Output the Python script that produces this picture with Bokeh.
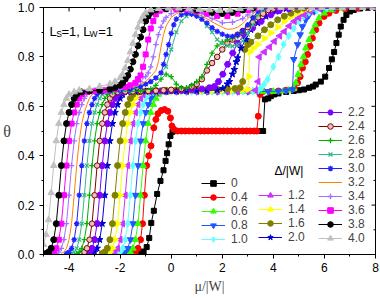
import math
from bokeh.plotting import figure
from bokeh.models import Range1d, FixedTicker, Label, Legend, LegendItem, Title
from bokeh.embed import file_html
from bokeh.resources import INLINE

# ---------------- data: (mu/|W|, theta) ----------------
D00 = [(-1.5, 0.0), (-1.3, 0.004), (-1.2, 0.007), (-1.08, 0.012), (-0.96, 0.03), (-0.86, 0.067),
       (-0.78, 0.128), (-0.68, 0.177), (-0.55, 0.245), (-0.42, 0.298), (-0.30, 0.341), (-0.22, 0.379),
       (-0.16, 0.41), (-0.10, 0.446), (-0.03, 0.48), (0.05, 0.497), (0.2, 0.5), (0.5, 0.5), (0.8, 0.5),
       (1.1, 0.5), (1.4, 0.5), (1.7, 0.5), (2.0, 0.5), (2.3, 0.5), (2.6, 0.5), (2.9, 0.5), (3.2, 0.5),
       (3.45, 0.5), (3.6, 0.5), (3.67, 0.628), (3.8, 0.632), (3.9, 0.641), (4.04, 0.648), (4.2, 0.652),
       (4.5, 0.658), (4.8, 0.662), (5.0, 0.665), (5.2, 0.668), (5.4, 0.675), (5.55, 0.68), (5.66, 0.688),
       (5.86, 0.70), (6.03, 0.72), (6.18, 0.755), (6.29, 0.79), (6.38, 0.82), (6.47, 0.856), (6.56, 0.89),
       (6.64, 0.923), (6.75, 0.95), (6.86, 0.97), (7.0, 0.984), (7.15, 0.99), (7.4, 0.996), (7.7, 0.999),
       (8.0, 1.0)]
D04 = [(-1.6, 0.002), (-1.5, 0.004), (-1.4, 0.01), (-1.3, 0.025), (-1.2, 0.06), (-1.12, 0.125),
       (-1.05, 0.24), (-0.96, 0.36), (-0.88, 0.40), (-0.79, 0.44), (-0.68, 0.513), (-0.6, 0.547),
       (-0.52, 0.57), (-0.39, 0.583), (-0.26, 0.587), (-0.13, 0.58), (-0.03, 0.553), (0.03, 0.52),
       (0.1, 0.507), (0.25, 0.5), (0.4, 0.5), (0.55, 0.5), (0.7, 0.5), (0.85, 0.5), (1.0, 0.5), (1.15, 0.5),
       (1.3, 0.5), (1.45, 0.5), (1.6, 0.5), (1.75, 0.5), (1.9, 0.5), (2.05, 0.5), (2.2, 0.5), (2.35, 0.5),
       (2.5, 0.5), (2.65, 0.5), (2.8, 0.5), (2.95, 0.5), (3.1, 0.5), (3.25, 0.5), (3.35, 0.5), (3.41, 0.56),
       (3.48, 0.648), (3.6, 0.66), (3.9, 0.66), (4.2, 0.662), (4.5, 0.665), (4.82, 0.672), (4.95, 0.695),
       (5.05, 0.72), (5.14, 0.755), (5.25, 0.78), (5.34, 0.81), (5.44, 0.843), (5.53, 0.876), (5.66, 0.91),
       (5.79, 0.937), (5.99, 0.964), (6.18, 0.977), (6.45, 0.988), (6.8, 0.995), (7.3, 0.998), (8.0, 1.0)]
D06 = [(-1.7, 0.004), (-1.6, 0.01), (-1.5, 0.025), (-1.4, 0.06), (-1.3, 0.125), (-1.2, 0.24), (-1.1, 0.36),
       (-1.0, 0.46), (-0.9, 0.53), (-0.8, 0.575), (-0.7, 0.607), (-0.6, 0.632), (-0.5, 0.648), (-0.3, 0.658),
       (0.0, 0.66), (0.4, 0.66), (0.8, 0.66), (1.2, 0.66), (1.6, 0.66), (2.0, 0.66), (2.4, 0.66), (2.8, 0.66),
       (3.2, 0.66), (3.6, 0.66), (4.0, 0.66), (4.4, 0.662), (4.6, 0.665), (4.8, 0.672), (4.88, 0.695),
       (4.97, 0.729), (5.08, 0.769), (5.18, 0.80), (5.27, 0.836), (5.4, 0.87), (5.53, 0.903), (5.64, 0.93),
       (5.79, 0.957), (5.99, 0.977), (6.3, 0.99), (6.7, 0.997), (8.0, 1.0)]
D08 = [(-1.9, 0.004), (-1.8, 0.01), (-1.7, 0.025), (-1.6, 0.06), (-1.5, 0.125), (-1.4, 0.24), (-1.3, 0.36),
       (-1.2, 0.46), (-1.1, 0.53), (-1.0, 0.575), (-0.9, 0.607), (-0.8, 0.632), (-0.7, 0.648), (-0.5, 0.658),
       (-0.2, 0.66), (0.2, 0.66), (0.6, 0.66), (1.0, 0.66), (1.4, 0.66), (1.8, 0.66), (2.2, 0.66), (2.6, 0.66),
       (3.0, 0.66), (3.4, 0.66), (3.8, 0.66), (4.2, 0.661), (4.5, 0.663), (4.75, 0.668), (4.8, 0.79),
       (4.95, 0.85), (5.05, 0.89), (5.14, 0.923), (5.27, 0.95), (5.4, 0.97), (5.6, 0.984), (5.9, 0.995),
       (6.4, 1.0), (8.0, 1.0)]
D10 = [(-2.1, 0.004), (-2.0, 0.01), (-1.9, 0.025), (-1.8, 0.06), (-1.7, 0.125), (-1.6, 0.24), (-1.5, 0.36),
       (-1.4, 0.46), (-1.3, 0.53), (-1.2, 0.575), (-1.1, 0.607), (-1.0, 0.632), (-0.9, 0.648), (-0.7, 0.658),
       (-0.4, 0.66), (0.0, 0.66), (0.4, 0.66), (0.8, 0.66), (1.2, 0.66), (1.6, 0.66), (2.0, 0.66), (2.4, 0.66),
       (2.8, 0.66), (3.2, 0.662), (3.4, 0.665), (3.52, 0.675), (3.65, 0.69), (3.78, 0.71), (4.0, 0.76),
       (4.2, 0.80), (4.4, 0.85), (4.6, 0.885), (4.8, 0.915), (5.0, 0.945), (5.2, 0.965), (5.4, 0.98),
       (5.7, 0.99), (6.1, 0.997), (8.0, 1.0)]
D12 = [(-2.3, 0.004), (-2.2, 0.01), (-2.1, 0.025), (-2.0, 0.06), (-1.9, 0.125), (-1.8, 0.24), (-1.7, 0.36),
       (-1.6, 0.46), (-1.5, 0.53), (-1.4, 0.575), (-1.3, 0.607), (-1.2, 0.632), (-1.1, 0.648), (-0.9, 0.658),
       (-0.6, 0.66), (-0.2, 0.66), (0.2, 0.66), (0.6, 0.66), (1.0, 0.66), (1.4, 0.66), (1.8, 0.66), (2.2, 0.66),
       (2.6, 0.66), (3.0, 0.662), (3.3, 0.665), (3.4, 0.70), (3.45, 0.80), (3.65, 0.82), (3.85, 0.84),
       (4.04, 0.863), (4.25, 0.885), (4.43, 0.903), (4.62, 0.925), (4.82, 0.944), (5.0, 0.958), (5.21, 0.97),
       (5.45, 0.985), (5.8, 0.995), (8.0, 1.0)]
D14 = [(-2.5, 0.004), (-2.4, 0.01), (-2.3, 0.025), (-2.2, 0.06), (-2.1, 0.125), (-2.0, 0.24), (-1.9, 0.36),
       (-1.8, 0.46), (-1.7, 0.53), (-1.6, 0.575), (-1.5, 0.607), (-1.4, 0.632), (-1.3, 0.648), (-1.1, 0.658),
       (-0.8, 0.66), (-0.4, 0.66), (0.0, 0.66), (0.4, 0.66), (0.8, 0.662), (1.2, 0.662), (1.6, 0.663),
       (2.0, 0.664), (2.4, 0.665), (2.8, 0.666), (3.0, 0.668), (3.04, 0.72), (3.08, 0.82), (3.2, 0.835),
       (3.39, 0.85), (3.65, 0.875), (3.9, 0.897), (4.17, 0.92), (4.43, 0.944), (4.69, 0.962), (4.95, 0.977),
       (5.2, 0.99), (5.5, 0.997), (8.0, 1.0)]
D16 = [(-2.7, 0.004), (-2.6, 0.01), (-2.5, 0.025), (-2.4, 0.06), (-2.3, 0.125), (-2.2, 0.24), (-2.1, 0.36),
       (-2.0, 0.46), (-1.9, 0.53), (-1.8, 0.575), (-1.7, 0.607), (-1.6, 0.632), (-1.5, 0.648), (-1.3, 0.658),
       (-1.0, 0.662), (-0.6, 0.664), (-0.2, 0.665), (0.2, 0.666), (0.6, 0.667), (1.0, 0.668), (1.4, 0.668),
       (1.8, 0.669), (2.2, 0.67), (2.5, 0.672), (2.7, 0.675), (2.8, 0.70), (2.88, 0.83), (3.0, 0.85),
       (3.12, 0.86), (3.4, 0.885), (3.65, 0.91), (3.9, 0.93), (4.17, 0.95), (4.43, 0.965), (4.69, 0.977),
       (4.95, 0.99), (5.2, 0.997), (8.0, 1.0)]
D20 = [(-3.1, 0.004), (-3.0, 0.01), (-2.9, 0.025), (-2.8, 0.06), (-2.7, 0.125), (-2.6, 0.24), (-2.5, 0.36),
       (-2.4, 0.46), (-2.3, 0.53), (-2.2, 0.575), (-2.1, 0.607), (-2.0, 0.632), (-1.9, 0.648), (-1.7, 0.658),
       (-1.4, 0.66), (-1.0, 0.66), (-0.6, 0.66), (-0.2, 0.66), (0.2, 0.661), (0.6, 0.662), (1.0, 0.663),
       (1.4, 0.664), (1.8, 0.666), (2.02, 0.672), (2.2, 0.69), (2.28, 0.70), (2.4, 0.73), (2.47, 0.749),
       (2.55, 0.78), (2.6, 0.796), (2.73, 0.836), (2.93, 0.87), (3.12, 0.91), (3.39, 0.937), (3.71, 0.964),
       (4.1, 0.984), (4.5, 0.995), (8.0, 1.0)]
D22 = [(-3.3, 0.004), (-3.2, 0.01), (-3.1, 0.025), (-3.0, 0.06), (-2.9, 0.125), (-2.8, 0.24), (-2.7, 0.36),
       (-2.6, 0.46), (-2.5, 0.53), (-2.4, 0.575), (-2.3, 0.607), (-2.2, 0.632), (-2.1, 0.648), (-1.9, 0.658),
       (-1.6, 0.66), (-1.2, 0.66), (-0.8, 0.661), (-0.4, 0.662), (0.0, 0.663), (0.4, 0.664), (0.8, 0.666),
       (1.2, 0.67), (1.5, 0.675), (1.69, 0.68), (1.85, 0.70), (2.02, 0.73), (2.21, 0.77), (2.41, 0.816),
       (2.6, 0.856), (2.86, 0.89), (3.19, 0.917), (3.52, 0.944), (3.9, 0.97), (4.23, 0.987), (4.6, 0.995),
       (8.0, 1.0)]
D24 = [(-3.5, 0.004), (-3.4, 0.01), (-3.3, 0.025), (-3.2, 0.06), (-3.1, 0.125), (-3.0, 0.24), (-2.9, 0.36),
       (-2.8, 0.46), (-2.7, 0.53), (-2.6, 0.575), (-2.5, 0.607), (-2.4, 0.632), (-2.3, 0.648), (-2.1, 0.658),
       (-1.8, 0.66), (-1.5, 0.66), (-1.2, 0.661), (-0.9, 0.662), (-0.6, 0.663), (-0.3, 0.665), (0.0, 0.667),
       (0.4, 0.67), (0.8, 0.68), (1.0, 0.69), (1.2, 0.71), (1.4, 0.745), (1.6, 0.775), (1.8, 0.80), (2.0, 0.83),
       (2.2, 0.855), (2.4, 0.87), (2.6, 0.89), (2.8, 0.905), (3.0, 0.92), (3.2, 0.94), (3.4, 0.96),
       (3.6, 0.975), (3.8, 0.99), (4.0, 0.995), (8.0, 1.0)]
D26 = [(-3.7, 0.004), (-3.6, 0.01), (-3.5, 0.025), (-3.4, 0.06), (-3.3, 0.125), (-3.2, 0.24), (-3.1, 0.36),
       (-3.0, 0.46), (-2.9, 0.53), (-2.8, 0.575), (-2.7, 0.607), (-2.6, 0.632), (-2.5, 0.648), (-2.3, 0.658),
       (-2.0, 0.66), (-1.6, 0.66), (-1.2, 0.662), (-0.8, 0.67), (-0.6, 0.685), (-0.4, 0.71), (-0.2, 0.73),
       (0.0, 0.72), (0.2, 0.69), (0.4, 0.675), (0.6, 0.675), (0.8, 0.685), (1.0, 0.70), (1.2, 0.72),
       (1.4, 0.77), (1.6, 0.815), (1.8, 0.845), (2.0, 0.86), (2.2, 0.87), (2.4, 0.875), (2.6, 0.885),
       (2.8, 0.90), (3.0, 0.93), (3.2, 0.96), (3.4, 0.985), (3.6, 0.995), (8.0, 1.0)]
D28 = [(-3.9, 0.004), (-3.8, 0.01), (-3.7, 0.025), (-3.6, 0.06), (-3.5, 0.125), (-3.4, 0.24), (-3.3, 0.36),
       (-3.2, 0.46), (-3.1, 0.53), (-3.0, 0.575), (-2.9, 0.607), (-2.8, 0.632), (-2.7, 0.648), (-2.5, 0.658),
       (-2.2, 0.662), (-1.8, 0.667), (-1.4, 0.675), (-1.0, 0.69), (-0.8, 0.70), (-0.6, 0.715), (-0.4, 0.735),
       (-0.2, 0.76), (0.0, 0.83), (0.2, 0.90), (0.4, 0.945), (0.6, 0.965), (0.8, 0.975), (1.0, 0.97),
       (1.2, 0.955), (1.4, 0.925), (1.6, 0.90), (1.8, 0.87), (2.0, 0.855), (2.2, 0.845), (2.4, 0.843),
       (2.6, 0.85), (2.8, 0.865), (3.0, 0.89), (3.2, 0.93), (3.4, 0.97), (3.6, 0.99), (3.8, 0.998), (8.0, 1.0)]
D30 = [(-4.1, 0.004), (-4.0, 0.01), (-3.9, 0.025), (-3.8, 0.06), (-3.7, 0.125), (-3.6, 0.24), (-3.5, 0.36),
       (-3.4, 0.46), (-3.3, 0.53), (-3.2, 0.575), (-3.1, 0.607), (-3.0, 0.632), (-2.9, 0.648), (-2.7, 0.658),
       (-2.4, 0.662), (-2.0, 0.665), (-1.6, 0.67), (-1.2, 0.68), (-1.0, 0.69), (-0.8, 0.70), (-0.6, 0.715),
       (-0.4, 0.735), (-0.3, 0.77), (-0.2, 0.81), (-0.1, 0.85), (0.0, 0.895), (0.1, 0.93), (0.2, 0.953),
       (0.4, 0.97), (0.6, 0.976), (0.8, 0.973), (1.0, 0.965), (1.2, 0.952), (1.4, 0.937), (1.6, 0.918),
       (1.8, 0.903), (2.0, 0.892), (2.2, 0.884), (2.4, 0.883), (2.6, 0.89), (2.8, 0.905), (3.0, 0.93),
       (3.2, 0.958), (3.4, 0.985), (3.6, 0.997), (8.0, 1.0)]
D32 = [(-4.3, 0.004), (-4.2, 0.01), (-4.1, 0.025), (-4.0, 0.06), (-3.9, 0.125), (-3.8, 0.24), (-3.7, 0.36),
       (-3.6, 0.46), (-3.5, 0.53), (-3.4, 0.575), (-3.3, 0.607), (-3.2, 0.632), (-3.1, 0.648), (-2.9, 0.658),
       (-2.6, 0.662), (-2.2, 0.665), (-1.8, 0.67), (-1.4, 0.68), (-1.2, 0.69), (-1.0, 0.70), (-0.8, 0.72),
       (-0.6, 0.745), (-0.5, 0.78), (-0.4, 0.84), (-0.3, 0.89), (-0.2, 0.925), (0.0, 0.96), (0.2, 0.975),
       (0.4, 0.983), (0.6, 0.985), (0.8, 0.981), (1.2, 0.966), (1.6, 0.942), (2.0, 0.92), (2.2, 0.912),
       (2.4, 0.913), (2.6, 0.92), (2.8, 0.935), (3.0, 0.955), (3.2, 0.975), (3.4, 0.99), (3.6, 1.0), (8.0, 1.0)]
D34 = [(-4.5, 0.004), (-4.4, 0.01), (-4.3, 0.025), (-4.2, 0.06), (-4.1, 0.125), (-4.0, 0.24), (-3.9, 0.36),
       (-3.8, 0.46), (-3.7, 0.53), (-3.6, 0.575), (-3.5, 0.607), (-3.4, 0.632), (-3.3, 0.648), (-3.1, 0.658),
       (-2.8, 0.662), (-2.4, 0.665), (-2.0, 0.67), (-1.6, 0.68), (-1.4, 0.69), (-1.2, 0.70), (-1.0, 0.72),
       (-0.9, 0.735), (-0.8, 0.76), (-0.7, 0.80), (-0.6, 0.85), (-0.5, 0.89), (-0.4, 0.92), (-0.3, 0.945),
       (-0.2, 0.96), (0.0, 0.975), (0.4, 0.986), (0.8, 0.985), (1.2, 0.975), (1.6, 0.955), (2.0, 0.938),
       (2.4, 0.94), (2.8, 0.955), (3.0, 0.97), (3.2, 0.985), (3.4, 0.996), (8.0, 1.0)]
D36 = [(-4.7, 0.004), (-4.6, 0.01), (-4.5, 0.025), (-4.4, 0.06), (-4.3, 0.125), (-4.2, 0.24), (-4.1, 0.36),
       (-4.0, 0.46), (-3.9, 0.53), (-3.8, 0.575), (-3.7, 0.607), (-3.6, 0.632), (-3.5, 0.648), (-3.3, 0.658),
       (-3.0, 0.662), (-2.6, 0.665), (-2.2, 0.67), (-1.8, 0.678), (-1.6, 0.685), (-1.4, 0.695), (-1.3, 0.71),
       (-1.2, 0.725), (-1.1, 0.76), (-1.0, 0.81), (-0.9, 0.87), (-0.8, 0.915), (-0.7, 0.945), (-0.6, 0.972),
       (-0.45, 0.987), (-0.2, 0.993), (0.2, 0.994), (0.6, 0.992), (1.0, 0.985), (1.4, 0.975), (1.8, 0.966),
       (2.2, 0.965), (2.6, 0.975), (3.0, 0.99), (3.3, 0.998), (8.0, 1.0)]
D38 = [(-4.9, 0.004), (-4.8, 0.01), (-4.7, 0.025), (-4.6, 0.06), (-4.5, 0.125), (-4.4, 0.24), (-4.3, 0.36),
       (-4.2, 0.46), (-4.1, 0.53), (-4.0, 0.575), (-3.9, 0.607), (-3.8, 0.632), (-3.7, 0.648), (-3.5, 0.658),
       (-3.2, 0.662), (-2.8, 0.665), (-2.4, 0.67), (-2.2, 0.675), (-2.0, 0.685), (-1.9, 0.695), (-1.8, 0.71),
       (-1.7, 0.725), (-1.6, 0.75), (-1.5, 0.78), (-1.4, 0.81), (-1.3, 0.845), (-1.2, 0.88), (-1.1, 0.91),
       (-1.0, 0.945), (-0.9, 0.965), (-0.8, 0.98), (-0.6, 0.99), (-0.2, 0.995), (0.4, 0.995), (1.0, 0.99),
       (1.6, 0.98), (2.0, 0.976), (2.4, 0.98), (2.8, 0.99), (3.2, 0.998), (8.0, 1.0)]
D40 = [(-5.0, 0.04), (-4.9, 0.08), (-4.8, 0.14), (-4.7, 0.25), (-4.6, 0.36), (-4.5, 0.46), (-4.4, 0.53),
       (-4.3, 0.575), (-4.2, 0.607), (-4.1, 0.632), (-4.0, 0.648), (-3.8, 0.658), (-3.6, 0.665), (-3.2, 0.67),
       (-2.8, 0.68), (-2.4, 0.69), (-2.2, 0.70), (-2.0, 0.715), (-1.9, 0.73), (-1.8, 0.755), (-1.7, 0.785),
       (-1.6, 0.82), (-1.5, 0.855), (-1.4, 0.89), (-1.3, 0.92), (-1.2, 0.945), (-1.1, 0.965), (-1.0, 0.978),
       (-0.8, 0.99), (-0.5, 0.995), (-0.1, 0.997), (0.3, 0.997), (0.7, 0.995), (1.1, 0.992), (1.5, 0.99),
       (1.9, 0.988), (2.3, 0.99), (2.7, 0.995), (3.1, 0.998), (3.5, 1.0), (3.9, 1.0), (4.3, 1.0), (4.7, 1.0),
       (5.1, 1.0), (5.5, 1.0), (5.9, 1.0), (6.3, 1.0), (6.7, 1.0), (7.1, 1.0), (7.5, 1.0), (7.9, 1.0)]

DELTA_LABELS = ["0", "0.4", "0.6", "0.8", "1.0", "1.2", "1.4", "1.6", "2.0", "2.2",
                "2.4", "2.6", "2.8", "3.0", "3.2", "3.4", "3.6", "3.8", "4.0"]
SERIES = [D00, D04, D06, D08, D10, D12, D14, D16, D20, D22, D24, D26, D28, D30, D32, D34, D36, D38, D40]

X_TICKS = [-4, -2, 0, 2, 4, 6, 8]
X_MINOR = [-5, -3, -1, 1, 3, 5, 7]
Y_TICKS = [0.0, 0.2, 0.4, 0.6, 0.8, 1.0]
Y_MINOR = [0.1, 0.3, 0.5, 0.7, 0.9]
X_MIN, X_MAX, Y_MIN, Y_MAX = -5, 8, 0, 1

# ---------------- styles ----------------
STYLE = {
    "0":   dict(color="#000000", marker="square", size=5),
    "0.4": dict(color="#ff0000", marker="circle", size=6),
    "0.6": dict(color="#33ff00", marker="triangle", size=6.5),
    "0.8": dict(color="#2255ff", marker="inverted_triangle", size=6.5),
    "1.0": dict(color="#66ffff", marker="diamond", size=7.5),
    "1.2": dict(color="#cc33ff", marker="triangle", size=6.5, angle=math.pi / 2),
    "1.4": dict(color="#ffff00", marker="triangle", size=6.5, angle=-math.pi / 2),
    "1.6": dict(color="#808000", marker="circle", size=6),
    "2.0": dict(color="#0000cc", marker="star", size=7),
    "2.2": dict(color="#8000ff", marker="hex", size=6.5),
    "2.4": dict(color="#800000", marker="circle", size=5.5, fill="#e8c0c0"),
    "2.6": dict(color="#00b000", marker="cross", size=5.5),
    "2.8": dict(color="#33bb88", marker="x", size=5.5),
    "3.0": dict(color="#2222ff", marker="asterisk", size=5.5),
    "3.2": dict(color="#ff8000", marker=None, size=0),
    "3.4": dict(color="#a070ff", marker="cross", size=5.5),
    "3.6": dict(color="#ff00ff", marker="square", size=5),
    "3.8": dict(color="#000000", marker="circle", size=6),
    "4.0": dict(color="#c0c0c0", marker="triangle", size=6.5),
}

p = figure(width=380, height=298, output_backend="svg", toolbar_location=None,
           x_range=Range1d(X_MIN, X_MAX), y_range=Range1d(Y_MIN, Y_MAX),
           min_border_left=42, min_border_right=5, min_border_top=7, min_border_bottom=44)
p.grid.visible = False
p.outline_line_color = "black"
p.outline_line_width = 1
p.background_fill_color = "white"

FONT = "Liberation Sans"
for ax in (p.xaxis[0], p.yaxis[0]):
    ax.major_tick_out = 4
    ax.major_tick_in = 0
    ax.minor_tick_out = 2
    ax.minor_tick_in = 0
    ax.major_label_text_font = FONT
    ax.major_label_text_font_size = "12px"
    ax.major_label_text_color = "black"
    ax.axis_line_color = "black"
    ax.major_tick_line_color = "black"
    ax.minor_tick_line_color = "black"
p.xaxis.major_label_standoff = 4
p.yaxis.major_label_standoff = 5

p.xaxis.ticker = FixedTicker(ticks=X_TICKS, minor_ticks=X_MINOR)
p.xaxis.major_label_overrides = {t: str(t) for t in X_TICKS}
p.yaxis.ticker = FixedTicker(ticks=Y_TICKS, minor_ticks=Y_MINOR)
p.yaxis.major_label_overrides = {t: "%.1f" % t for t in Y_TICKS}

# y axis title: theta, upright, serif
p.yaxis.axis_label = "\u03b8"
p.yaxis.axis_label_orientation = "horizontal"
p.yaxis.axis_label_text_font = "Liberation Serif"
p.yaxis.axis_label_text_font_size = "16px"
p.yaxis.axis_label_text_font_style = "normal"
p.yaxis.axis_label_standoff = 4

# x axis title below the tick labels, a little right of centre as in the picture
xt = Title(text="\u03bc/|W|", align="center", offset=16, text_font="Liberation Serif",
           text_font_size="14px", text_font_style="normal", standoff=5)
p.add_layout(xt, "below")

# mirrored inward ticks on top and right edges (half of each dash is clipped by the frame)
p.scatter(X_TICKS, [Y_MAX] * len(X_TICKS), marker="dash", angle=math.pi / 2, size=8,
          line_color="black", line_width=1)
p.scatter(X_MINOR, [Y_MAX] * len(X_MINOR), marker="dash", angle=math.pi / 2, size=4,
          line_color="black", line_width=1)
p.scatter([X_MAX] * len(Y_TICKS), Y_TICKS, marker="dash", size=8, line_color="black", line_width=1)
p.scatter([X_MAX] * len(Y_MINOR), Y_MINOR, marker="dash", size=4, line_color="black", line_width=1)

renderers = {}
for lab, data in zip(DELTA_LABELS, SERIES):
    st = STYLE[lab]
    mu = [d[0] for d in data]
    th = [d[1] for d in data]
    rl = p.line(mu, th, line_color=st["color"], line_width=1)
    rs = [rl]
    if st["marker"]:
        kw = {}
        if "angle" in st:
            kw["angle"] = st["angle"]
        lw = 1.3 if st["marker"] in ("cross", "x", "asterisk") else 1
        r = p.scatter(mu, th, marker=st["marker"], size=st["size"],
                      line_color=st["color"], fill_color=st.get("fill", st["color"]),
                      line_width=lw, **kw)
        rs.append(r)
    renderers[lab] = rs

def make_legend(labels, loc):
    items = [LegendItem(label=l, renderers=renderers[l]) for l in labels]
    return Legend(items=items, location=loc, border_line_color=None, background_fill_alpha=0,
                  label_text_font=FONT, label_text_font_size="12px", glyph_width=24,
                  glyph_height=14, label_height=14, spacing=0, padding=0, margin=0,
                  label_standoff=6)

p.add_layout(make_legend(["0", "0.4", "0.6", "0.8", "1.0"], (158, 8)), "center")
p.add_layout(make_legend(["1.2", "1.4", "1.6", "2.0"], (215, 10)), "center")
p.add_layout(make_legend(["2.2", "2.4", "2.6", "2.8", "3.0", "3.2", "3.4", "3.6", "3.8", "4.0"],
                         (275, 9)), "center")

def lab(text, x, y, size, font=FONT, align="left", baseline="alphabetic"):
    p.add_layout(Label(x=x, y=y, x_units="screen", y_units="screen", text=text,
                       text_font=font, text_font_size=size, text_align=align,
                       text_baseline=baseline, text_color="black"))

lab("\u0394/|W|", 231, 84, "12px", baseline="middle")
# L_S=1, L_W=1
lab("L", 6, 223, "13px")
lab("S", 12.7, 220.5, "8.5px")
lab("=1,", 18, 223, "13px")
lab("L", 39.7, 223, "13px")
lab("W", 45.9, 220.5, "8.5px")
lab("=1", 54.7, 223, "13px")

open("out.html", "w").write(file_html(p, INLINE))
